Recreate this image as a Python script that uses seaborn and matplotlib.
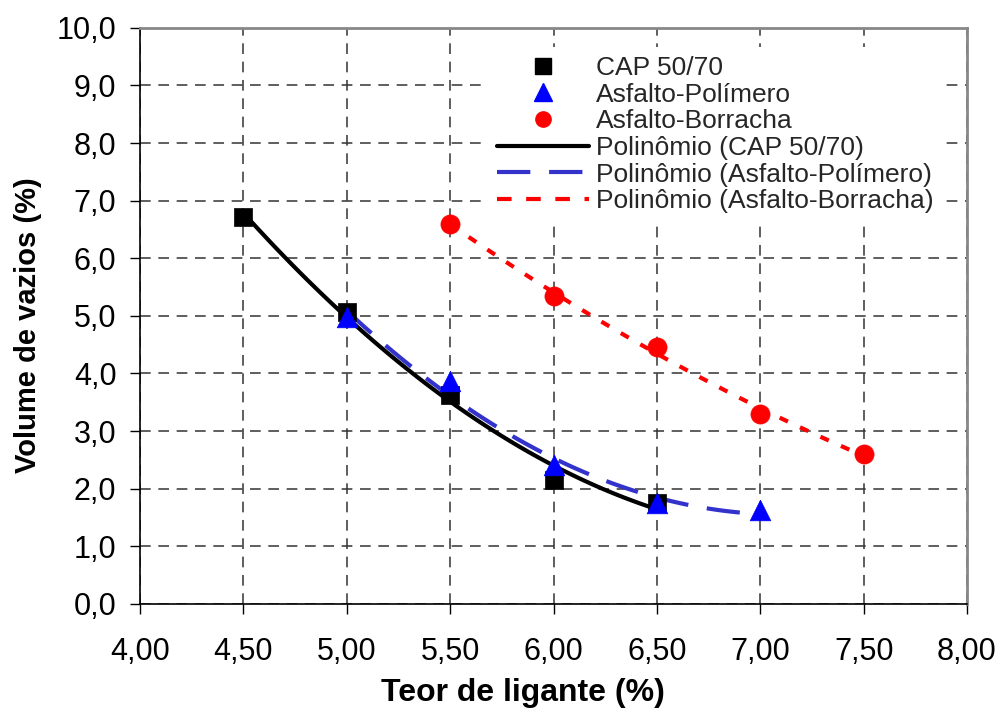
import matplotlib
matplotlib.use("Agg")
import matplotlib.pyplot as plt
from matplotlib.lines import Line2D
from matplotlib.ticker import FixedLocator, FuncFormatter
import seaborn as sns
import pandas as pd

# ---- data ----
teor = [4.50, 5.00, 5.50, 6.00, 6.50]
cap_5070 = [6.72, 5.07, 3.63, 2.15, 1.75]

teor_pol = [5.00, 5.50, 6.00, 6.50, 7.00]
asf_pol = [4.98, 3.87, 2.41, 1.75, 1.63]

teor_bor = [5.50, 6.00, 6.50, 7.00, 7.50]
asf_bor = [6.60, 5.35, 4.46, 3.30, 2.60]

series_names = ["CAP 50/70", "Asfalto-Polímero", "Asfalto-Borracha"]
trend_names = ["Polinômio (CAP 50/70)", "Polinômio (Asfalto-Polímero)",
               "Polinômio (Asfalto-Borracha)"]
x_ticks = [4.0, 4.5, 5.0, 5.5, 6.0, 6.5, 7.0, 7.5, 8.0]
y_ticks = [0, 1, 2, 3, 4, 5, 6, 7, 8, 9, 10]
x_label = "Teor de ligante (%)"
y_label = "Volume de vazios (%)"

sns.set_style("white")
plt.rcParams["font.family"] = ["Liberation Sans", "DejaVu Sans"]

fig = plt.figure(figsize=(10, 7.13), dpi=100)
ax = fig.add_axes([0.140, 0.153, 0.827, 0.808])

df_cap = pd.DataFrame({"x": teor, "y": cap_5070})
df_pol = pd.DataFrame({"x": teor_pol, "y": asf_pol})
df_bor = pd.DataFrame({"x": teor_bor, "y": asf_bor})

# trend lines (2nd-order polynomial, like the Excel trendlines)
sns.regplot(data=df_cap, x="x", y="y", order=2, ci=None, scatter=False,
            truncate=True, ax=ax,
            line_kws=dict(color="black", lw=3.0, linestyle="-", zorder=3))
sns.regplot(data=df_pol, x="x", y="y", order=2, ci=None, scatter=False,
            truncate=True, ax=ax,
            line_kws=dict(color="#3333CC", lw=3.0, linestyle=(0, (8, 4.5)), zorder=3))
sns.regplot(data=df_bor, x="x", y="y", order=2, ci=None, scatter=False,
            truncate=True, ax=ax,
            line_kws=dict(color="#FF0000", lw=3.0, linestyle=(0, (2.2, 3.2)), zorder=3))

# data points
sns.scatterplot(data=df_cap, x="x", y="y", marker="s", s=180, color="black",
                edgecolor="black", linewidth=0.5, ax=ax, zorder=4)
sns.scatterplot(data=df_pol, x="x", y="y", marker="^", s=220, color="#0000FF",
                edgecolor="#0000FF", linewidth=0.5, ax=ax, zorder=5)
sns.scatterplot(data=df_bor, x="x", y="y", marker="o", s=190, color="#FF0000",
                edgecolor="#FF0000", linewidth=0.5, ax=ax, zorder=4)

ax.set_xlim(4.0, 8.0)
ax.set_ylim(0, 10)
ax.xaxis.set_major_locator(FixedLocator(x_ticks))
ax.yaxis.set_major_locator(FixedLocator(y_ticks))
ax.xaxis.set_major_formatter(FuncFormatter(lambda v, p: f"{v:.2f}".replace(".", ",")))
ax.yaxis.set_major_formatter(FuncFormatter(lambda v, p: f"{v:.1f}".replace(".", ",")))

ax.grid(True, color="#333333", linestyle=(0, (7, 5)), lw=1.1)
ax.set_axisbelow(True)

ax.tick_params(axis="both", direction="out", length=7, width=1, color="black",
               labelsize=22, labelcolor="black")
ax.tick_params(axis="x", pad=17)
ax.tick_params(axis="y", pad=10)
ax.tick_params(left=True, bottom=True)

for side in ["left", "bottom"]:
    ax.spines[side].set_color("black")
    ax.spines[side].set_linewidth(1.2)
for side in ["top", "right"]:
    ax.spines[side].set_visible(True)
    ax.spines[side].set_color("#888888")
    ax.spines[side].set_linewidth(2.0)

ax.set_xlabel(x_label, fontsize=23, fontweight="bold", color="black")
ax.set_ylabel(y_label, fontsize=21, fontweight="bold", color="black")
ax.xaxis.set_label_coords(0.463, -0.128)
ax.yaxis.set_label_coords(-0.119, 0.484)

handles = [
    Line2D([], [], linestyle="none", marker="s", markersize=11, color="black"),
    Line2D([], [], linestyle="none", marker="^", markersize=13, color="#0000FF"),
    Line2D([], [], linestyle="none", marker="o", markersize=11, color="#FF0000"),
    Line2D([], [], color="black", lw=3.0),
    Line2D([], [], color="#3333CC", lw=3.0, linestyle=(0, (8, 4.5))),
    Line2D([], [], color="#FF0000", lw=3.0, linestyle=(0, (3.5, 3.5))),
]
leg = ax.legend(handles, series_names + trend_names, loc="upper left",
                bbox_to_anchor=(0.42, 0.967), fontsize=19, frameon=True,
                fancybox=False, framealpha=1, facecolor="white",
                edgecolor="none", handlelength=3.5, handletextpad=0.27,
                labelspacing=0.1, borderpad=0.35, borderaxespad=0)

fig.savefig("out.png", dpi=100)
